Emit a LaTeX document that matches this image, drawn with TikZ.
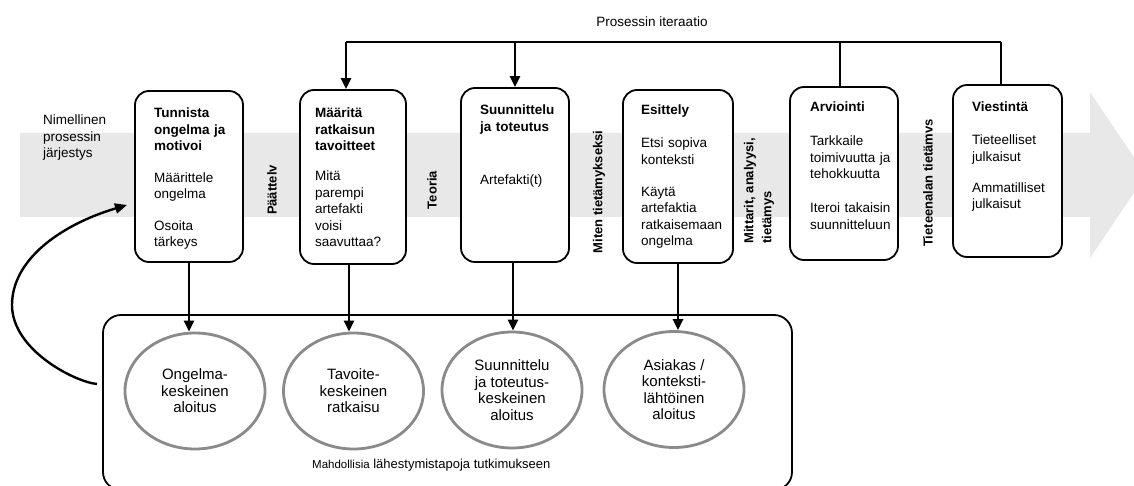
\documentclass[tikz,border=0pt]{standalone}
\usepackage{fontspec}
\setmainfont{Liberation Sans}
\usetikzlibrary{shapes.geometric,arrows.meta}
\definecolor{bandgray}{RGB}{232,232,232}
\definecolor{ringgray}{RGB}{138,138,138}

\begin{document}
\begin{tikzpicture}[x=1pt,y=-1pt,
  stage/.style={draw=black, line width=1.8pt, rounded corners=14pt, fill=white, inner sep=0pt},
  stagetext/.style={anchor=base west, inner sep=0pt, text width=100pt, align=left,
    font=\fontsize{13.5}{16.5}\selectfont},
  sidelabel/.style={rotate=90, inner sep=0pt, align=left,
    font=\bfseries\fontsize{13}{18}\selectfont},
  entry/.style={ellipse, draw=ringgray, line width=2.8pt, fill=white,
    minimum width=140pt, minimum height=116pt, inner sep=0pt, align=center,
    font=\fontsize{15}{16.5}\selectfont},
  link/.style={line width=2.8pt},
  tip/.style={-{Triangle[length=11pt,width=10pt]}}
]
\useasboundingbox (0,0) rectangle (1134,486);

% wide process arrow in the background
\fill[bandgray] (20,133) -- (1090,133) -- (1090,92) -- (1146,175)
  -- (1090,258) -- (1090,217) -- (20,217) -- cycle;

\node[anchor=base west, inner sep=0pt, align=left,
  font=\fontsize{13.5}{16.5}\selectfont] (order) at (43,158)
  {Nimellinen\\prosessin\\järjestys};

% process stages
\node[stage, minimum width=108pt, minimum height=171pt] (b1) at (189,176.5) {};
\node[stage, minimum width=106pt, minimum height=174pt] (b2) at (353,177) {};
\node[stage, minimum width=108pt, minimum height=174pt] (b3) at (515,175) {};
\node[stage, minimum width=110pt, minimum height=173pt] (b4) at (678,176.5) {};
\node[stage, minimum width=108pt, minimum height=173pt] (b5) at (844,173.5) {};
\node[stage, minimum width=109pt, minimum height=172pt] (b6) at (1007.5,171) {};

\node[stagetext] (t1) at (154,118)
  {{\bfseries Tunnista\\ongelma ja\\motivoi}\\[15pt]Määrittele\\ongelma\\[15pt]Osoita\\tärkeys};
\node[stagetext] (t2) at (315,118)
  {{\bfseries Määritä\\ratkaisun\\tavoitteet}\\[13.5pt]Mitä\\parempi\\artefakti\\voisi\\saavuttaa?};
\node[stagetext] (t3) at (480,115)
  {{\bfseries Suunnittelu\\ja toteutus}\\[36.5pt]Artefakti(t)};
\node[stagetext] (t4) at (641,115)
  {{\bfseries Esittely}\\[16.5pt]Etsi sopiva\\konteksti\\[15.5pt]Käytä\\artefaktia\\ratkaisemaan\\ongelma};
\node[stagetext] (t5) at (810,112)
  {{\bfseries Arviointi}\\[17.5pt]Tarkkaile\\toimivuutta ja\\tehokkuutta\\[17.5pt]Iteroi takaisin\\suunnitteluun};
\node[stagetext] (t6) at (972,112)
  {{\bfseries Viestintä}\\[16.5pt]Tieteelliset\\julkaisut\\[14.5pt]Ammatilliset\\julkaisut};

% labels between the stages
\node[sidelabel] (s1) at (272,190) {Päättelv};
\node[sidelabel] (s2) at (432,190) {Teoria};
\node[sidelabel] (s3) at (599,192) {Miten tietämykseksi};
\node[sidelabel] (s4) at (759,191) {Mittarit, analyysi,\\tietämys};
\node[sidelabel] (s5) at (928,183) {Tieteenalan tietämvs};

% iteration loop over the stages
\node[font=\fontsize{13.5}{16}\selectfont, inner sep=0pt] (iter) at (652,22) {Prosessin iteraatio};
\coordinate (topL) at (346,42);
\coordinate (topR) at (1001,42);
\draw[link] (topL) -- (topR);
\draw[link, tip] (topL) -- (topL |- b2.north);
\draw[link, tip] (b3.north |- topL) -- (b3.north);
\draw[link] (840,42) -- (840,0 |- b5.north);
\draw[link] (topR) -- (topR |- b6.north);

% research entry points
\node[draw=black, line width=1.8pt, rounded corners=18pt,
  minimum width=689pt, minimum height=175pt, inner sep=0pt] (field) at (447.5,402.5) {};
\node[entry] (c1) at (195,391) {Ongelma-\\keskeinen\\aloitus};
\node[entry] (c2) at (353.5,391) {Tavoite-\\keskeinen\\ratkaisu};
\node[entry] (c3) at (512,390) {Suunnittelu\\ja toteutus-\\keskeinen\\aloitus};
\node[entry] (c4) at (674,389.5) {Asiakas /\\konteksti-\\lähtöinen\\aloitus};
\node[anchor=base west, inner sep=0pt, font=\fontsize{13}{15}\selectfont] (fieldlabel) at (312,468)
  {{\fontsize{11.5}{13}\selectfont Mahdollisia} lähestymistapoja tutkimukseen};

\draw[link, tip] (b1.south) -- (b1.south |- c1.north);
\draw[link, tip] (349,0 |- b2.south) -- (349,0 |- c2.north);
\draw[link, tip] (513,0 |- b3.south) -- (513,0 |- c3.north);
\draw[link, tip] (b4.south) -- (b4.south |- c4.north);

% feedback from the entry points back to the start of the process
\coordinate (loopstart) at (97,384);
\coordinate (loopmid) at (12,305);
\coordinate (looptip) at (127,205);
\draw[line width=2.4pt, -{Triangle[length=12pt,width=10pt]}] (loopstart)
  .. controls (75,382) and (12,350) .. (loopmid)
  .. controls (12,260) and (60,225) .. (looptip);
\end{tikzpicture}
\end{document}
